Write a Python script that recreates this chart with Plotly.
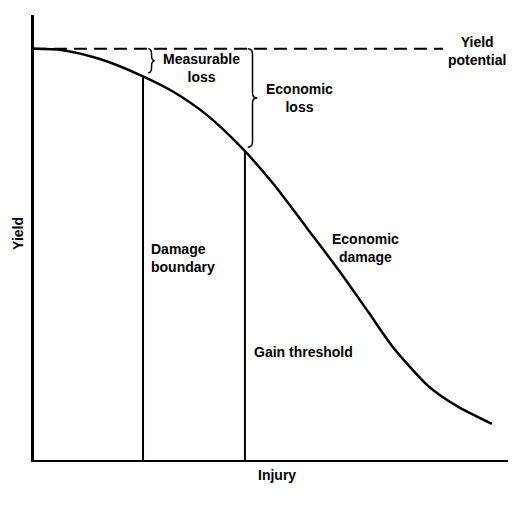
import plotly.graph_objects as go

# Data (relative units)
injury = [0, 6.1, 13.9, 22.4, 29.3, 36.5, 43.7, 50.4, 57.6, 64.6, 70.5, 75.7, 82.9, 85.9, 89.9, 96.6]
yield_vals = [92.4, 92.1, 90.1, 86.5, 82.8, 77.5, 70.3, 62.2, 52.1, 42.2, 33.3, 25.4, 16.9, 14.4, 11.7, 8.1]
yield_potential = 92.4
potential_end = 86.3
damage_boundary = 23.0
damage_boundary_yield = 86.0
gain_threshold = 44.5
gain_threshold_yield = 69.4

FONT = dict(family="Liberation Sans, Arial, sans-serif", size=14, color="black")

fig = go.Figure()

# yield potential dashed line
fig.add_trace(go.Scatter(x=[0, potential_end], y=[yield_potential, yield_potential],
                         mode="lines", line=dict(color="black", width=2, dash="13px,7px"),
                         hoverinfo="skip", showlegend=False))
# damage curve
fig.add_trace(go.Scatter(x=injury, y=yield_vals, mode="lines",
                         line=dict(color="black", width=2.5, shape="spline", smoothing=0.8),
                         showlegend=False))
# vertical lines
fig.add_trace(go.Scatter(x=[damage_boundary, damage_boundary], y=[0, damage_boundary_yield],
                         mode="lines", line=dict(color="black", width=2), showlegend=False))
fig.add_trace(go.Scatter(x=[gain_threshold, gain_threshold], y=[0, gain_threshold_yield],
                         mode="lines", line=dict(color="black", width=2), showlegend=False))


def brace(x0, ytop, ybot, w, r=1.2):
    xm = x0 + w
    xt = x0 + 2 * w
    ym = (ytop + ybot) / 2
    return (f"M {x0},{ytop} Q {xm},{ytop} {xm},{ytop - r} L {xm},{ym + r} "
            f"Q {xm},{ym} {xt},{ym} Q {xm},{ym} {xm},{ym - r} L {xm},{ybot + r} "
            f"Q {xm},{ybot} {x0},{ybot}")


fig.add_shape(type="path", path=brace(damage_boundary + 1.1, yield_potential, damage_boundary_yield + 1.0, 0.7),
              line=dict(color="black", width=1.5))
fig.add_shape(type="path", path=brace(gain_threshold + 0.6, yield_potential, gain_threshold_yield + 0.9, 1.0),
              line=dict(color="black", width=1.5))

labels = [
    ("Measurable<br>loss", 35.4, 88.1, "center"),
    ("Economic<br>loss", 56.1, 81.3, "center"),
    ("Yield<br>potential", 93.5, 91.9, "center"),
    ("Economic<br>damage", 70.0, 47.6, "center"),
    ("Damage<br>boundary", 24.3, 45.4, "left"),
    ("Gain threshold", 46.0, 24.3, "left"),
]
for text, x, y, anchor in labels:
    fig.add_annotation(x=x, y=y, text=f"<b>{text}</b>", showarrow=False, xanchor=anchor,
                       yanchor="middle", align=anchor, font=FONT)

# axis titles (outside the plotting area -> paper coordinates)
fig.add_annotation(x=0.513, y=-0.034, xref="paper", yref="paper", text="<b>Injury</b>",
                   showarrow=False, xanchor="center", yanchor="middle", font=FONT)
fig.add_annotation(x=-0.034, y=0.51, xref="paper", yref="paper", text="<b>Yield</b>",
                   showarrow=False, textangle=-90, xanchor="center", yanchor="middle", font=FONT)

# page body has an 8px default margin -> figure shrunk/offset to compensate
fig.update_layout(
    width=519, height=509,
    margin=dict(l=26, r=19, t=7, b=57),
    paper_bgcolor="white", plot_bgcolor="white",
    showlegend=False,
    font=FONT,
)
fig.update_xaxes(range=[0, 100], showline=True, linecolor="black", linewidth=2,
                 showgrid=False, zeroline=False, showticklabels=False, ticks="")
fig.update_yaxes(range=[0, 100], showline=True, linecolor="black", linewidth=2.5,
                 showgrid=False, zeroline=False, showticklabels=False, ticks="")

fig.write_html("out.html")
